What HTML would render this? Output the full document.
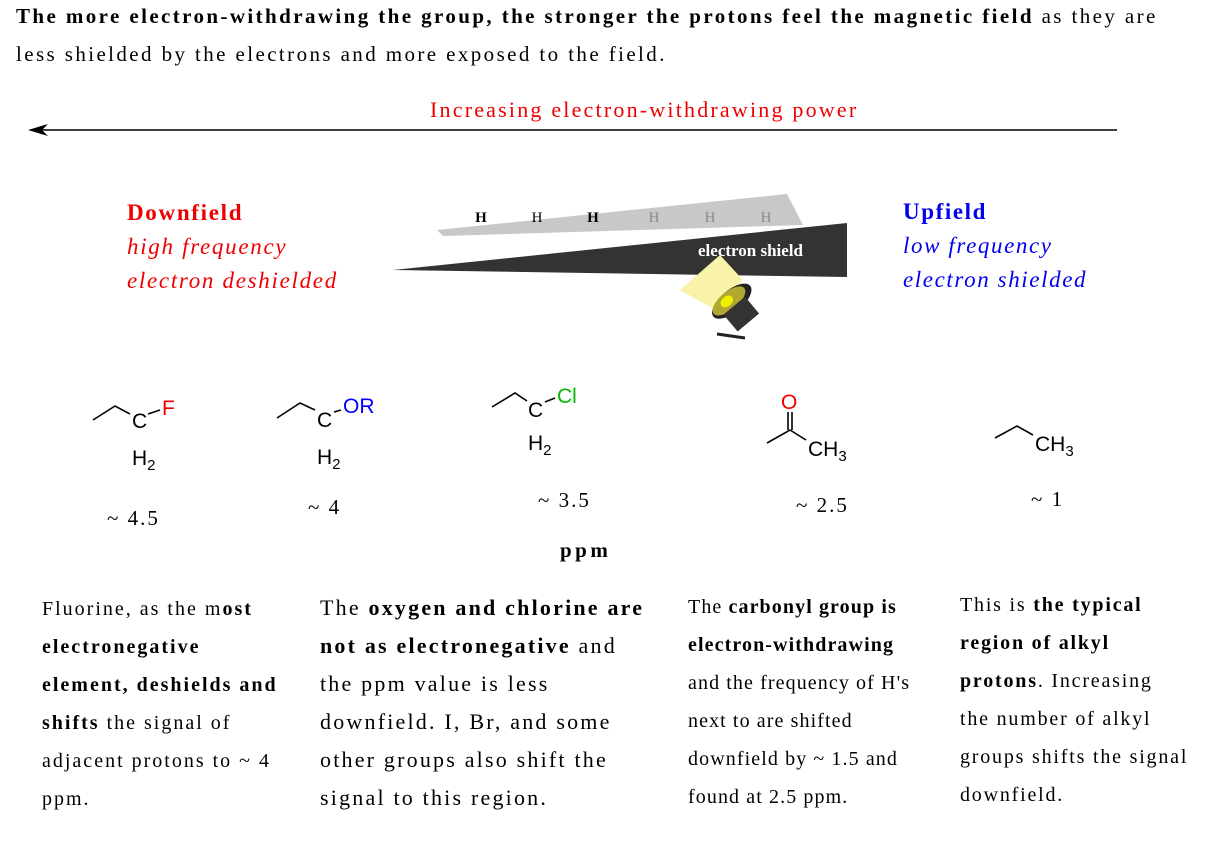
<!DOCTYPE html>
<html><head><meta charset="utf-8"><style>
body{margin:0;width:1216px;height:848px;background:#fff;position:relative;overflow:hidden;font-family:"Liberation Serif",serif;color:#000}
.a{position:absolute;white-space:nowrap}
.t{font-size:21px;line-height:38px;letter-spacing:2.4px}
.p{position:absolute;font-size:21px;line-height:38px;white-space:nowrap}
</style></head><body>
<div class="a t" style="left:16px;top:-3px">
<b>The more electron-withdrawing the group, the stronger the protons feel the magnetic field</b> as they are<br>less shielded by the electrons and more exposed to the field.</div>
<div class="a" style="left:430px;top:97px;font-size:22px;color:#e00;letter-spacing:2.2px">Increasing electron-withdrawing power</div>
<svg class="a" style="left:0;top:0" width="1216" height="848">
<line x1="40" y1="130" x2="1117" y2="130" stroke="#000" stroke-width="1.5"/>
<polygon points="28,130 48,124 42,130 48,136" fill="#000"/>
<polygon points="437,230 787,194 803,225 443,236" fill="#c8c8c8"/>
<polygon points="393,270 847,223 847,277" fill="#333"/>
<g font-family="Liberation Serif" font-size="15" text-anchor="middle">
<text x="481" y="222" font-weight="bold">H</text><text x="537" y="222">H</text><text x="593" y="222" font-weight="bold">H</text>
<text x="654" y="222" fill="#888">H</text><text x="710" y="222" fill="#888">H</text><text x="766" y="222" fill="#888">H</text>
<text x="698" y="256" fill="#fff" font-weight="bold" font-size="17" text-anchor="start">electron shield</text></g>
<polygon points="680,290 720,255 743,280 712,308" fill="#f8f3a8"/>
<g transform="rotate(-40 735 305)"><ellipse cx="735" cy="300" rx="24" ry="11" fill="#222"/><ellipse cx="733" cy="298" rx="20" ry="9" fill="#b0a830"/><ellipse cx="731" cy="297" rx="7" ry="5" fill="#ee0"/><rect x="720" y="305" width="28" height="22" fill="#333"/></g>
<line x1="717" y1="334" x2="745" y2="338" stroke="#222" stroke-width="3"/>
<g stroke="#000" stroke-width="1.6" fill="none">
<polyline points="93,420 115,406 130,414"/><line x1="148" y1="414" x2="160" y2="410"/>
<polyline points="277,418 300,403 315,410"/><line x1="334" y1="412" x2="341" y2="410"/>
<polyline points="492,407 515,393 527,401"/><line x1="545" y1="402" x2="555" y2="398"/>
<polyline points="767,443 790,430 806,440"/><line x1="788" y1="430" x2="788" y2="412"/><line x1="792" y1="430" x2="792" y2="412"/>
<polyline points="995,438 1017,426 1033,435"/></g>
<g font-family="Liberation Sans" font-size="21">
<text x="132" y="428">C</text><text x="162" y="415" fill="#e00">F</text><text x="132" y="465">H<tspan font-size="15" dy="5">2</tspan></text>
<text x="317" y="427">C</text><text x="343" y="413" fill="#00f">OR</text><text x="317" y="464">H<tspan font-size="15" dy="5">2</tspan></text>
<text x="528" y="417">C</text><text x="557" y="403" fill="#0b0">Cl</text><text x="528" y="450">H<tspan font-size="15" dy="5">2</tspan></text>
<text x="781" y="409" fill="#e00">O</text><text x="808" y="456">CH<tspan font-size="15" dy="5">3</tspan></text>
<text x="1035" y="451">CH<tspan font-size="15" dy="5">3</tspan></text></g>
<g font-family="Liberation Serif" font-size="21" letter-spacing="2">
<text x="107" y="525">~ 4.5</text><text x="308" y="514">~ 4</text><text x="538" y="507">~ 3.5</text>
<text x="560" y="557" font-weight="bold" letter-spacing="3.5">ppm</text><text x="796" y="512">~ 2.5</text><text x="1031" y="506">~ 1</text></g>
</svg>
<div class="a" style="left:127px;top:196px;font-size:23px;line-height:34px;color:#e00;letter-spacing:1.7px"><b>Downfield</b><br><i>high frequency</i><br><i>electron deshielded</i></div>
<div class="a" style="left:903px;top:195px;font-size:23px;line-height:34px;color:#00e;letter-spacing:1.6px"><b>Upfield</b><br><i>low frequency</i><br><i>electron shielded</i></div>
<div class="p" style="left:42px;top:590px;font-size:20px;letter-spacing:2px">Fluorine, as the m<b>ost<br>electronegative<br>element, deshields and<br>shifts</b> the signal of<br>adjacent protons to ~ 4<br>ppm.</div>
<div class="p" style="left:320px;top:589px;font-size:22px;letter-spacing:2.2px">The <b>oxygen and chlorine are<br>not as electronegative</b> and<br>the ppm value is less<br>downfield. I, Br, and some<br>other groups also shift the<br>signal to this region.</div>
<div class="p" style="left:688px;top:588px;font-size:20px;letter-spacing:1.1px">The <b>carbonyl group is<br>electron-withdrawing</b><br>and the frequency of H's<br>next to are shifted<br>downfield by ~ 1.5 and<br>found at 2.5 ppm.</div>
<div class="p" style="left:960px;top:586px;font-size:20px;letter-spacing:1.8px">This is <b>the typical<br>region of alkyl<br>protons</b>. Increasing<br>the number of alkyl<br>groups shifts the signal<br>downfield.</div>
</body></html>
